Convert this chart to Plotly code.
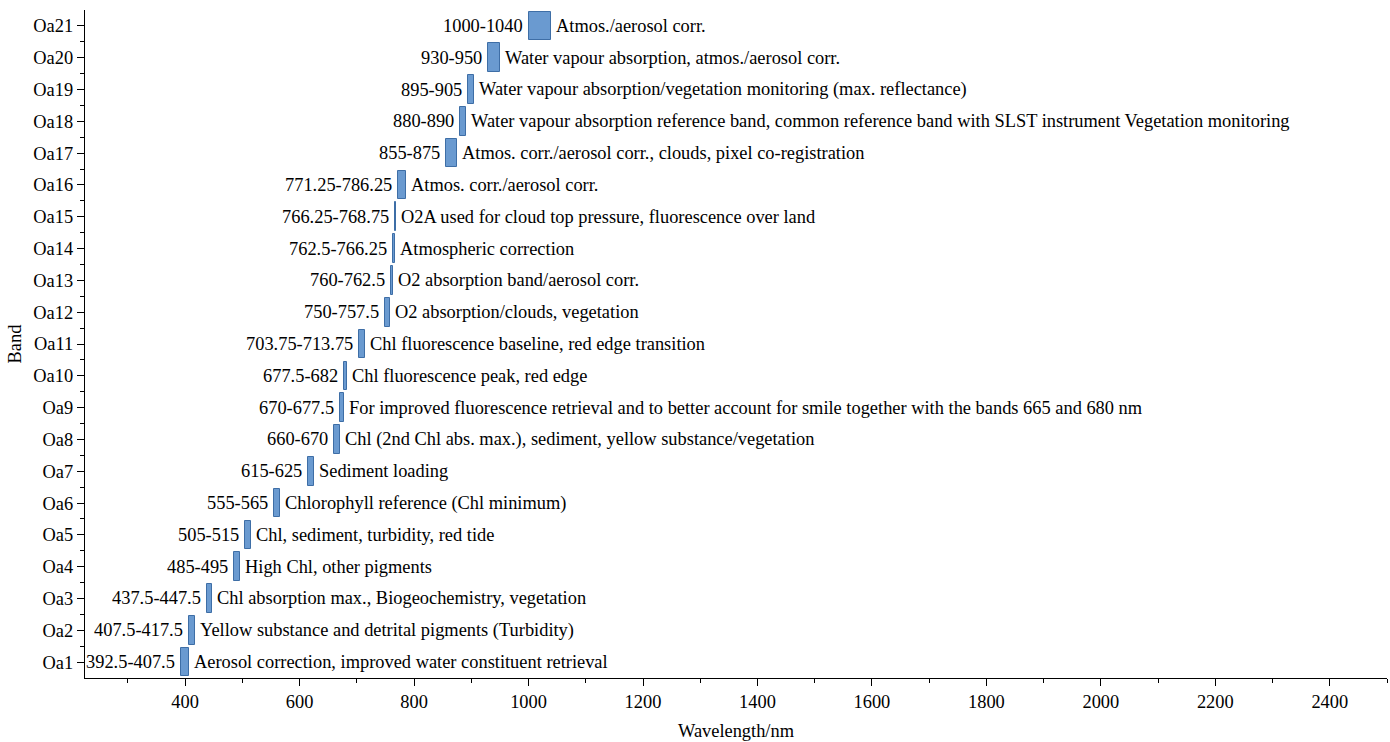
import plotly.graph_objects as go

# Sentinel-3 OLCI band definitions
bands = [f"Oa{i}" for i in range(1, 22)]
band_start = [392.5, 407.5, 437.5, 485, 505, 555, 615, 660, 670, 677.5, 703.75,
              750, 760, 762.5, 766.25, 771.25, 855, 880, 895, 930, 1000]
band_end = [407.5, 417.5, 447.5, 495, 515, 565, 625, 670, 677.5, 682, 713.75,
            757.5, 762.5, 766.25, 768.75, 786.25, 875, 890, 905, 950, 1040]
range_labels = ["392.5-407.5", "407.5-417.5", "437.5-447.5", "485-495", "505-515",
                "555-565", "615-625", "660-670", "670-677.5", "677.5-682",
                "703.75-713.75", "750-757.5", "760-762.5", "762.5-766.25",
                "766.25-768.75", "771.25-786.25", "855-875", "880-890", "895-905",
                "930-950", "1000-1040"]
uses = [
    "Aerosol correction, improved water constituent retrieval",
    "Yellow substance and detrital pigments (Turbidity)",
    "Chl absorption max., Biogeochemistry, vegetation",
    "High Chl, other pigments",
    "Chl, sediment, turbidity, red tide",
    "Chlorophyll reference (Chl minimum)",
    "Sediment loading",
    "Chl (2nd Chl abs. max.), sediment, yellow substance/vegetation",
    "For improved fluorescence retrieval and to better account for smile together with the bands 665 and 680 nm",
    "Chl fluorescence peak, red edge",
    "Chl fluorescence baseline, red edge transition",
    "O2 absorption/clouds, vegetation",
    "O2 absorption band/aerosol corr.",
    "Atmospheric correction",
    "O2A used for cloud top pressure, fluorescence over land",
    "Atmos. corr./aerosol corr.",
    "Atmos. corr./aerosol corr., clouds, pixel co-registration",
    "Water vapour absorption reference band, common reference band with SLST instrument Vegetation monitoring",
    "Water vapour absorption/vegetation monitoring (max. reflectance)",
    "Water vapour absorption, atmos./aerosol corr.",
    "Atmos./aerosol corr.",
]

FONT = "Liberation Serif"
FS = 18.4
ypos = list(range(len(bands)))
widths = [e - s for s, e in zip(band_start, band_end)]

fig = go.Figure()
fig.add_trace(go.Bar(
    y=ypos, x=widths, base=band_start, orientation="h", width=0.9,
    marker=dict(color="#6A9AD0", line=dict(color="#3E6EA6", width=1)),
    hoverinfo="skip", showlegend=False,
))

annotations = []
for y, s, e, rl, u in zip(ypos, band_start, band_end, range_labels, uses):
    annotations.append(dict(x=s, y=y, xref="x", yref="y", text=rl, showarrow=False,
                            xanchor="right", yanchor="middle", xshift=-4,
                            font=dict(family=FONT, size=FS, color="black")))
    annotations.append(dict(x=e, y=y, xref="x", yref="y", text=u, showarrow=False,
                            xanchor="left", yanchor="middle", xshift=3,
                            font=dict(family=FONT, size=FS, color="black")))

fig.update_layout(
    width=1390, height=742,
    margin=dict(l=85, r=3, t=10, b=64),
    plot_bgcolor="white", paper_bgcolor="white",
    font=dict(family=FONT, size=FS, color="black"),
    annotations=annotations,
    bargap=0,
)
fig.update_xaxes(
    range=[225, 2500], tick0=0, dtick=200,
    showline=True, linecolor="black", linewidth=1.3, mirror=False,
    ticks="outside", ticklen=7, tickwidth=1.3, tickcolor="black",
    minor=dict(dtick=100, tick0=0, ticks="outside", ticklen=4, tickwidth=1.3, tickcolor="black"),
    showgrid=False, zeroline=False,
    tickfont=dict(family=FONT, size=FS, color="black"),
    title=dict(text="Wavelength/nm", font=dict(family=FONT, size=FS, color="black"), standoff=12),
)
fig.update_yaxes(
    range=[-0.5, 20.5], tickvals=ypos, ticktext=bands,
    showline=True, linecolor="black", linewidth=1.3, mirror=False,
    ticks="outside", ticklen=7, tickwidth=1.3, tickcolor="black",
    minor=dict(tickvals=[i + 0.5 for i in ypos[:-1]], ticks="outside", ticklen=4,
               tickwidth=1.3, tickcolor="black"),
    showgrid=False, zeroline=False,
    tickfont=dict(family=FONT, size=FS, color="black"),
    title=dict(text="Band", font=dict(family=FONT, size=FS, color="black"), standoff=6),
)

fig.write_html("out.html")
